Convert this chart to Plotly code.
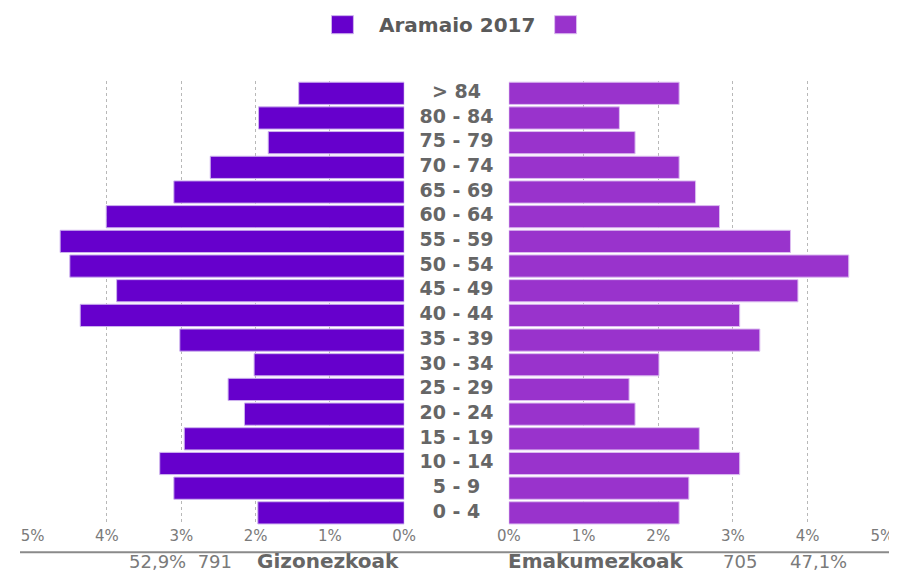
import plotly.graph_objects as go

W, H = 897, 572

title = "Aramaio 2017"
age_groups = ["0 - 4", "5 - 9", "10 - 14", "15 - 19", "20 - 24", "25 - 29", "30 - 34",
              "35 - 39", "40 - 44", "45 - 49", "50 - 54", "55 - 59", "60 - 64",
              "65 - 69", "70 - 74", "75 - 79", "80 - 84", "> 84"]
men_pct = [1.97, 3.10, 3.29, 2.96, 2.15, 2.37, 2.02, 3.02, 4.36, 3.87,
           4.50, 4.63, 4.01, 3.10, 2.61, 1.83, 1.96, 1.42]
women_pct = [2.28, 2.41, 3.09, 2.55, 1.69, 1.61, 2.01, 3.36, 3.09, 3.87,
             4.55, 3.77, 2.82, 2.50, 2.28, 1.69, 1.48, 2.28]
men_label = "Gizonezkoak"
women_label = "Emakumezkoak"
men_total = 791
women_total = 705
tick_vals = [0, 1, 2, 3, 4, 5]
tick_text = ["0%", "1%", "2%", "3%", "4%", "5%"]

MEN_COLOR = "#6600CC"
WOMEN_COLOR = "#9933CC"
GRAY_TXT = "#666666"
GRAY_TICK = "#7a7a7a"

# calibration from page pixel to figure pixel (page offset/scale)
def px(x):
    return ((x - 17.3) / 0.977) / W

def py(y):
    return 1 - ((y - 9.4) / 0.995) / H

total = men_total + women_total
men_share = f"{men_total / total * 100:.1f}%".replace(".", ",")
women_share = f"{women_total / total * 100:.1f}%".replace(".", ",")

fig = go.Figure()
fig.add_trace(go.Bar(
    x=men_pct, y=age_groups, orientation="h", xaxis="x", yaxis="y",
    marker=dict(color=MEN_COLOR, line=dict(color="#cdb3ee", width=1)),
    showlegend=False, hoverinfo="skip"))
fig.add_trace(go.Bar(
    x=women_pct, y=age_groups, orientation="h", xaxis="x2", yaxis="y",
    marker=dict(color=WOMEN_COLOR, line=dict(color="#dcbdf0", width=1)),
    showlegend=False, hoverinfo="skip"))
fig.add_trace(go.Scatter(
    x=[0.5] * len(age_groups), y=age_groups, xaxis="x3", yaxis="y",
    mode="text", text=age_groups,
    textfont=dict(family="DejaVu Sans", size=19, color=GRAY_TXT, weight="bold"),
    showlegend=False, hoverinfo="skip"))

grid = dict(showgrid=True, gridcolor="#b8b8b8", griddash="dot", gridwidth=1,
            zeroline=False, showline=False, ticks="",
            tickvals=tick_vals, ticktext=tick_text,
            tickfont=dict(family="DejaVu Sans", size=15, color=GRAY_TICK),
            fixedrange=True)

fig.update_layout(
    width=W, height=H, autosize=False,
    margin=dict(l=0, r=0, t=0, b=0),
    paper_bgcolor="white", plot_bgcolor="white",
    barmode="overlay", bargap=0.1,
    xaxis=dict(domain=[px(30), px(403)], range=[5, 0], anchor="y", **grid),
    xaxis2=dict(domain=[px(508), px(883)], range=[0, 5], anchor="y", **grid),
    xaxis3=dict(domain=[px(403), px(508)], range=[0, 1], anchor="y", visible=False),
    yaxis=dict(domain=[py(524), py(82)], type="category",
               categoryorder="array", categoryarray=age_groups,
               range=[-0.5, len(age_groups) - 0.5],
               showticklabels=False, showgrid=False, zeroline=False, showline=False,
               fixedrange=True),
)

# Legend (manual)
fig.add_shape(type="rect", xref="paper", yref="paper",
              x0=px(330), x1=px(352), y0=py(35), y1=py(17),
              fillcolor=MEN_COLOR, line=dict(color="#cdb3ee", width=1))
fig.add_shape(type="rect", xref="paper", yref="paper",
              x0=px(554), x1=px(576), y0=py(35), y1=py(17),
              fillcolor=WOMEN_COLOR, line=dict(color="#dcbdf0", width=1))
fig.add_annotation(xref="paper", yref="paper", x=px(456), y=py(26),
                   text=title, showarrow=False, xanchor="center", yanchor="middle",
                   font=dict(family="DejaVu Sans", size=20, color="#5a5a5a", weight="bold"))

# Bottom rule
fig.add_shape(type="line", xref="paper", yref="paper",
              x0=0, x1=px(890), y0=py(551), y1=py(551),
              line=dict(color="#8a8a8a", width=2))

bottom_y = py(560)
fig.add_annotation(xref="paper", yref="paper", x=px(232), y=bottom_y,
                   text=f"{men_share}\u00a0\u00a0{men_total}", showarrow=False,
                   xanchor="right", yanchor="middle",
                   font=dict(family="DejaVu Sans", size=18, color=GRAY_TICK))
fig.add_annotation(xref="paper", yref="paper", x=px(326), y=bottom_y,
                   text=men_label, showarrow=False, xanchor="center", yanchor="middle",
                   font=dict(family="DejaVu Sans", size=20, color=GRAY_TXT, weight="bold"))
fig.add_annotation(xref="paper", yref="paper", x=px(596), y=bottom_y,
                   text=women_label, showarrow=False, xanchor="center", yanchor="middle",
                   font=dict(family="DejaVu Sans", size=20, color=GRAY_TXT, weight="bold"))
fig.add_annotation(xref="paper", yref="paper", x=px(740), y=bottom_y,
                   text=str(women_total), showarrow=False, xanchor="center", yanchor="middle",
                   font=dict(family="DejaVu Sans", size=18, color=GRAY_TICK))
fig.add_annotation(xref="paper", yref="paper", x=px(819), y=bottom_y,
                   text=women_share, showarrow=False, xanchor="center", yanchor="middle",
                   font=dict(family="DejaVu Sans", size=18, color=GRAY_TICK))

fig.write_html("out.html", config={"displayModeBar": False})
